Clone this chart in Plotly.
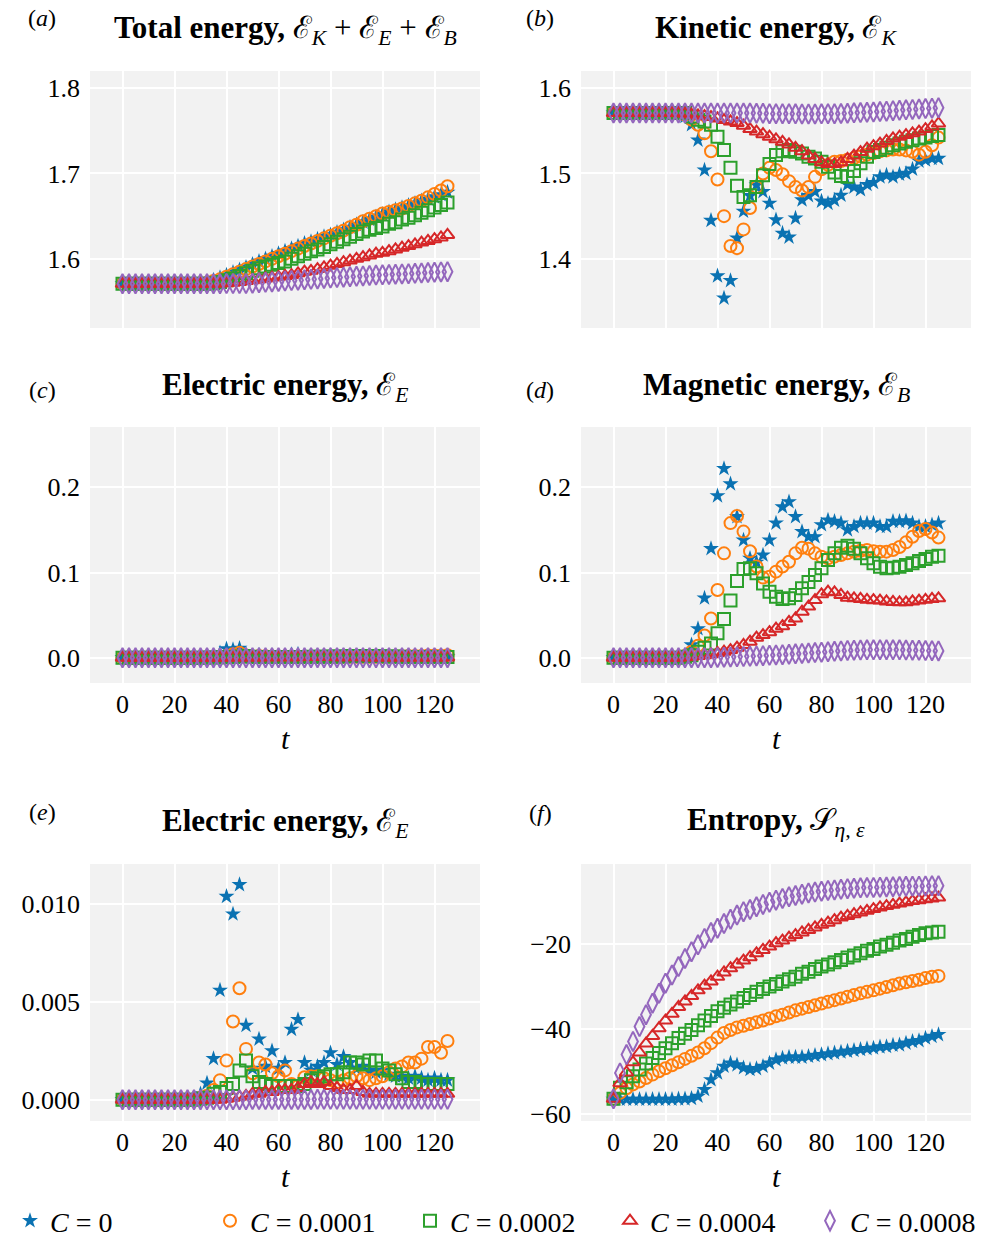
import plotly.graph_objects as go

# ---------------- data ----------------
T = [0, 2.5, 5, 7.5, 10, 12.5, 15, 17.5, 20, 22.5, 25, 27.5, 30, 32.5, 35, 37.5, 40, 42.5, 45, 47.5,
     50, 52.5, 55, 57.5, 60, 62.5, 65, 67.5, 70, 72.5, 75, 77.5, 80, 82.5, 85, 87.5, 90, 92.5, 95, 97.5,
     100, 102.5, 105, 107.5, 110, 112.5, 115, 117.5, 120, 122.5, 125]

SERIES_NAMES = ["<i>C</i> = 0", "<i>C</i> = 0.0001", "<i>C</i> = 0.0002", "<i>C</i> = 0.0004", "<i>C</i> = 0.0008"]

# total energy
TOT_C0 = [1.5708, 1.5708, 1.5708, 1.5708, 1.5708, 1.5708, 1.5708, 1.5708, 1.5708, 1.5708,
          1.5708, 1.5708, 1.5715, 1.573, 1.575, 1.578, 1.581, 1.584, 1.587, 1.590,
          1.5935, 1.597, 1.600, 1.603, 1.606, 1.609, 1.612, 1.615, 1.618, 1.620,
          1.623, 1.626, 1.628, 1.631, 1.634, 1.637, 1.640, 1.643, 1.646, 1.649,
          1.652, 1.655, 1.6575, 1.660, 1.6625, 1.665, 1.668, 1.670, 1.6725, 1.675,
          1.678]
TOT_C1 = [1.5708, 1.5708, 1.5708, 1.5708, 1.5708, 1.5708, 1.5708, 1.5708, 1.5708, 1.5708,
          1.5708, 1.5708, 1.5708, 1.572, 1.574, 1.576, 1.579, 1.582, 1.585, 1.588,
          1.591, 1.594, 1.597, 1.600, 1.603, 1.606, 1.609, 1.612, 1.615, 1.618,
          1.621, 1.624, 1.627, 1.630, 1.633, 1.637, 1.640, 1.644, 1.647, 1.650,
          1.653, 1.655, 1.657, 1.659, 1.662, 1.665, 1.668, 1.672, 1.676, 1.680,
          1.685]
TOT_C2 = [1.5708, 1.5708, 1.5708, 1.5708, 1.5708, 1.5708, 1.5708, 1.5708, 1.5708, 1.5708,
          1.5708, 1.5708, 1.5708, 1.5708, 1.5715, 1.573, 1.575, 1.577, 1.580, 1.583,
          1.586, 1.589, 1.591, 1.593, 1.595, 1.597, 1.600, 1.603, 1.606, 1.609,
          1.611, 1.614, 1.617, 1.620, 1.623, 1.626, 1.629, 1.632, 1.634, 1.636,
          1.638, 1.641, 1.643, 1.646, 1.648, 1.651, 1.654, 1.657, 1.660, 1.663,
          1.666]
TOT_C4 = [1.5708, 1.5708, 1.5708, 1.5708, 1.5708, 1.5708, 1.5708, 1.5708, 1.5708, 1.5708,
          1.5708, 1.5708, 1.5708, 1.5708, 1.5708, 1.571, 1.5715, 1.572, 1.573, 1.574,
          1.575, 1.576, 1.577, 1.578, 1.579, 1.580, 1.581, 1.583, 1.585, 1.586,
          1.588, 1.590, 1.592, 1.594, 1.596, 1.598, 1.600, 1.602, 1.604, 1.606,
          1.607, 1.609, 1.611, 1.613, 1.615, 1.617, 1.619, 1.621, 1.623, 1.625,
          1.628]
TOT_C8 = [1.5708, 1.5708, 1.5708, 1.5708, 1.5708, 1.5708, 1.5708, 1.5708, 1.5708, 1.5708,
          1.5708, 1.5708, 1.5708, 1.5708, 1.5708, 1.5708, 1.571, 1.571, 1.571, 1.571,
          1.5715, 1.572, 1.5725, 1.573, 1.5735, 1.574, 1.5745, 1.575, 1.5755, 1.576,
          1.5765, 1.577, 1.5775, 1.578, 1.5785, 1.579, 1.5795, 1.580, 1.5805, 1.581,
          1.5813, 1.5816, 1.582, 1.5823, 1.5826, 1.583, 1.5835, 1.584, 1.5843, 1.5847,
          1.585]

# kinetic energy
KIN_C0 = [1.5708, 1.5708, 1.5708, 1.5708, 1.5708, 1.5708, 1.5708, 1.5708, 1.5708, 1.5708,
          1.5708, 1.5667, 1.557, 1.539, 1.504, 1.445, 1.380, 1.354, 1.3745, 1.4243,
          1.4557, 1.474, 1.4865, 1.4787, 1.465, 1.4456, 1.430, 1.4254, 1.4476, 1.469,
          1.474, 1.4787, 1.4675, 1.465, 1.4686, 1.4745, 1.487, 1.484, 1.481, 1.487,
          1.4894, 1.496, 1.498, 1.496, 1.499, 1.500, 1.505, 1.5145, 1.5157, 1.5176,
          1.5176]
KIN_C1 = [1.5708, 1.5708, 1.5708, 1.5708, 1.5708, 1.5708, 1.5708, 1.5708, 1.5708, 1.5708,
          1.5708, 1.569, 1.563, 1.557, 1.547, 1.526, 1.493, 1.450, 1.415, 1.4125,
          1.4345, 1.4596, 1.484, 1.500, 1.5067, 1.504, 1.499, 1.491, 1.484, 1.480,
          1.484, 1.496, 1.505, 1.510, 1.5137, 1.5145, 1.516, 1.518, 1.520, 1.522,
          1.524, 1.526, 1.527, 1.528, 1.528, 1.527, 1.5255, 1.522, 1.5255, 1.533,
          1.542]
KIN_C2 = [1.5708, 1.5708, 1.5708, 1.5708, 1.5708, 1.5708, 1.5708, 1.5708, 1.5708, 1.5708,
          1.5708, 1.5708, 1.5667, 1.563, 1.561, 1.557, 1.543, 1.5275, 1.5067, 1.4855,
          1.4725, 1.4745, 1.484, 1.498, 1.511, 1.5216, 1.526, 1.5275, 1.5255, 1.5235,
          1.5196, 1.5176, 1.5137, 1.508, 1.501, 1.497, 1.496, 1.503, 1.512, 1.5196,
          1.525, 1.5275, 1.530, 1.533, 1.535, 1.537, 1.539, 1.541, 1.542, 1.544,
          1.545]
KIN_C4 = [1.5708, 1.5708, 1.5708, 1.5708, 1.5708, 1.5708, 1.5708, 1.5708, 1.5708, 1.5708,
          1.5705, 1.570, 1.569, 1.568, 1.567, 1.566, 1.5645, 1.5625, 1.561, 1.559,
          1.556, 1.552, 1.549, 1.546, 1.543, 1.540, 1.537, 1.534, 1.530, 1.526,
          1.521, 1.517, 1.513, 1.511, 1.511, 1.513, 1.517, 1.521, 1.525, 1.529,
          1.532, 1.535, 1.538, 1.541, 1.543, 1.545, 1.547, 1.549, 1.552, 1.555,
          1.5585]
KIN_C8 = [1.5708, 1.5708, 1.5708, 1.5708, 1.5708, 1.5708, 1.5708, 1.5708, 1.5708, 1.5708,
          1.5708, 1.5708, 1.5708, 1.5708, 1.5708, 1.5708, 1.5708, 1.5708, 1.5708, 1.5708,
          1.5708, 1.5708, 1.5705, 1.5705, 1.570, 1.570, 1.570, 1.570, 1.5698, 1.5697,
          1.5697, 1.5697, 1.5698, 1.570, 1.570, 1.5702, 1.5705, 1.571, 1.5713, 1.5717,
          1.572, 1.5725, 1.573, 1.5735, 1.574, 1.5745, 1.575, 1.5755, 1.576, 1.5765,
          1.577]

# electric energy
ELE_C0 = [0, 0, 0, 0, 0, 0, 0, 0, 0, 0,
          0, 0.00005, 0.0003, 0.00085, 0.0021, 0.0056, 0.0104, 0.0095, 0.011, 0.0038,
          0.0016, 0.0031, 0.0017, 0.0025, 0.0016, 0.0019, 0.0036, 0.0041, 0.0019, 0.0015,
          0.0017, 0.0019, 0.0024, 0.0018, 0.0022, 0.0019, 0.0016, 0.0017, 0.0015, 0.0014,
          0.0015, 0.0013, 0.0012, 0.0012, 0.0011, 0.0012, 0.0011, 0.0010, 0.0011, 0.0010,
          0.0010]
ELE_C1 = [0, 0, 0, 0, 0, 0, 0, 0, 0, 0,
          0, 0, 0.0001, 0.0002, 0.0005, 0.0010, 0.0020, 0.0040, 0.0057, 0.0026,
          0.00135, 0.0019, 0.0018, 0.00135, 0.0012, 0.0015, 0.0008, 0.0007, 0.00115, 0.0012,
          0.0012, 0.0011, 0.0010, 0.0009, 0.0010, 0.0011, 0.0012, 0.0011, 0.0010, 0.0011,
          0.0012, 0.0014, 0.0016, 0.0017, 0.0019, 0.0019, 0.0021, 0.0027, 0.0027, 0.0024,
          0.0030]
ELE_C2 = [0, 0, 0, 0, 0, 0, 0, 0, 0, 0,
          0, 0, 0.00005, 0.0001, 0.0003, 0.0004, 0.0006, 0.0008, 0.0015, 0.0020,
          0.0012, 0.0009, 0.0008, 0.0007, 0.0007, 0.0007, 0.0007, 0.0007, 0.0008, 0.0010,
          0.0011, 0.0012, 0.0013, 0.0013, 0.0014, 0.0019, 0.0019, 0.0018, 0.0020, 0.0020,
          0.0016, 0.0015, 0.0013, 0.0011, 0.0009, 0.0009, 0.0008, 0.0008, 0.0008, 0.0008,
          0.0008]
ELE_C4 = [0, 0, 0, 0, 0, 0, 0, 0, 0, 0,
          0, 0, 0, 0, 0, 0, 0.00005, 0.0001, 0.00015, 0.0002,
          0.0003, 0.0003, 0.0004, 0.0004, 0.0005, 0.0005, 0.0005, 0.0006, 0.0008, 0.0009,
          0.0008, 0.0009, 0.0007, 0.0006, 0.0005, 0.0005, 0.0007, 0.0004, 0.0003, 0.0003,
          0.0003, 0.0003, 0.0003, 0.0003, 0.0003, 0.0003, 0.0003, 0.0003, 0.0003, 0.0003,
          0.0003]
ELE_C8 = [0, 0, 0, 0, 0, 0, 0, 0, 0, 0,
          0, 0, 0, 0, 0, 0, 0, 0, 0, 0,
          0.00001, 0.00001, 0.00001, 0.00001, 0.00001, 0.00001, 0.00001, 0.00001, 0.00001, 0.00001,
          0.00002, 0.00002, 0.00002, 0.00002, 0.00002, 0.00002, 0.00002, 0.00002, 0.00002, 0.00002,
          0.00002, 0.00002, 0.00002, 0.00002, 0.00002, 0.00002, 0.00002, 0.00002, 0.00002, 0.00002,
          0.00002]

# magnetic energy
MAG_C0 = [0, 0, 0, 0, 0, 0, 0, 0, 0, 0,
          0, 0.003, 0.015, 0.034, 0.070, 0.128, 0.190, 0.222, 0.204, 0.1655,
          0.138, 0.1166, 0.112, 0.1205, 0.138, 0.158, 0.177, 0.183, 0.1655, 0.148,
          0.142, 0.142, 0.156, 0.1616, 0.160, 0.158, 0.150, 0.154, 0.158, 0.158,
          0.158, 0.154, 0.154, 0.160, 0.160, 0.1605, 0.158, 0.154, 0.154, 0.156,
          0.158]
MAG_C1 = [0, 0, 0, 0, 0, 0, 0, 0, 0, 0,
          0, 0.002, 0.007, 0.014, 0.026, 0.046, 0.0795, 0.1225, 0.158, 0.1663,
          0.148, 0.125, 0.107, 0.094, 0.095, 0.101, 0.107, 0.1127, 0.1225, 0.129,
          0.128, 0.1225, 0.1186, 0.1166, 0.1186, 0.1205, 0.1225, 0.1245, 0.1256, 0.1264,
          0.125, 0.1245, 0.1245, 0.1264, 0.130, 0.1354, 0.142, 0.1487, 0.151, 0.147,
          0.141]
MAG_C2 = [0, 0, 0, 0, 0, 0, 0, 0, 0, 0,
          0, 0.001, 0.003, 0.007, 0.0117, 0.0168, 0.0286, 0.0454, 0.067, 0.090,
          0.104, 0.105, 0.099, 0.087, 0.0775, 0.0716, 0.069, 0.0697, 0.0736, 0.0814,
          0.089, 0.097, 0.105, 0.1147, 0.1225, 0.129, 0.1315, 0.128, 0.1225, 0.1166,
          0.1108, 0.1068, 0.105, 0.1057, 0.1068, 0.1088, 0.1108, 0.1135, 0.1159, 0.1186,
          0.1198]
MAG_C4 = [0, 0, 0, 0, 0, 0, 0, 0, 0, 0,
          0, 0.0005, 0.001, 0.002, 0.003, 0.004, 0.0055, 0.007, 0.009, 0.0117,
          0.0149, 0.0188, 0.0235, 0.0266, 0.030, 0.034, 0.037, 0.042, 0.046, 0.054,
          0.060, 0.0677, 0.0744, 0.0775, 0.0767, 0.0736, 0.0705, 0.0697, 0.069, 0.068,
          0.0675, 0.067, 0.066, 0.0655, 0.065, 0.065, 0.066, 0.067, 0.068, 0.069,
          0.0697]
MAG_C8 = [0, 0, 0, 0, 0, 0, 0, 0, 0, 0,
          0, 0, 0, 0, 0, 0, 0.0003, 0.0005, 0.0008, 0.001,
          0.0013, 0.0016, 0.002, 0.0024, 0.0028, 0.0032, 0.0036, 0.004, 0.0045, 0.005,
          0.0055, 0.006, 0.0065, 0.007, 0.0075, 0.008, 0.0085, 0.0088, 0.009, 0.0092,
          0.0093, 0.0094, 0.0094, 0.0093, 0.0092, 0.009, 0.0088, 0.0086, 0.0084, 0.0082,
          0.008]

# entropy
ENT_C0 = [-56.5, -56.5, -56.5, -56.5, -56.5, -56.5, -56.5, -56.5, -56.5, -56.5,
          -56.4, -56.4, -56.3, -55.8, -54.2, -51.9, -50.3, -48.75, -48.0, -48.4,
          -49.1, -49.5, -49.3, -48.75, -48.0, -47.2, -46.8, -46.6, -46.6, -46.6,
          -46.4, -46.2, -46.0, -45.8, -45.6, -45.4, -45.2, -45.0, -44.8, -44.6,
          -44.45, -44.2, -44.1, -43.8, -43.7, -43.3, -42.9, -42.7, -42.1, -41.7,
          -41.3]
ENT_C1 = [-56.4, -55.0, -53.9, -53.0, -52.3, -51.5, -50.7, -49.9, -49.2, -48.5,
          -47.8, -47.0, -46.25, -45.5, -44.5, -43.3, -42.0, -40.9, -40.2, -39.6,
          -39.2, -38.8, -38.4, -37.97, -37.5, -37.0, -36.6, -36.1, -35.6, -35.2,
          -34.8, -34.4, -34.0, -33.6, -33.2, -32.8, -32.4, -32.0, -31.6, -31.25,
          -30.9, -30.5, -30.1, -29.7, -29.3, -29.0, -28.7, -28.4, -28.0, -27.7,
          -27.5]
ENT_C2 = [-56.4, -53.8, -52.5, -51.1, -49.5, -48.1, -46.8, -45.6, -44.5, -43.3,
          -42.1, -41.1, -40.2, -39.1, -38.0, -36.9, -35.8, -35.0, -34.2, -33.5,
          -32.7, -32.0, -31.25, -30.6, -30.0, -29.4, -28.8, -28.3, -27.7, -27.0,
          -26.5, -25.9, -25.3, -24.8, -24.3, -23.75, -23.2, -22.7, -22.2, -21.6,
          -21.2, -20.6, -20.2, -19.7, -19.2, -18.8, -18.3, -17.9, -17.5, -17.3,
          -17.1]
ENT_C4 = [-56.4, -52.7, -50.2, -47.8, -45.5, -43.4, -41.6, -39.8, -38.0, -36.4,
          -34.8, -33.5, -32.2, -30.9, -29.8, -28.8, -27.7, -26.7, -25.7, -24.8,
          -23.9, -23.1, -22.2, -21.4, -20.6, -19.8, -19.2, -18.5, -17.9, -17.3,
          -16.7, -16.1, -15.5, -15.0, -14.4, -13.8, -13.4, -13.0, -12.6, -12.2,
          -11.8, -11.4, -11.1, -10.8, -10.5, -10.2, -9.9, -9.7, -9.5, -9.3,
          -9.1]
ENT_C8 = [-56.4, -50.3, -46.0, -42.9, -39.4, -36.6, -33.9, -31.6, -29.2, -27.3,
          -25.3, -23.4, -21.8, -20.2, -18.7, -17.3, -16.3, -15.2, -14.2, -13.2,
          -12.4, -11.9, -11.25, -10.7, -10.2, -9.7, -9.3, -8.9, -8.6, -8.3,
          -8.0, -7.8, -7.6, -7.4, -7.3, -7.15, -7.0, -6.9, -6.8, -6.75,
          -6.7, -6.65, -6.6, -6.55, -6.5, -6.45, -6.4, -6.4, -6.35, -6.3,
          -6.3]

X_TICKS = [0, 20, 40, 60, 80, 100, 120]
Y_TICKS_A = [1.6, 1.7, 1.8]
Y_TICKS_B = [1.4, 1.5, 1.6]
Y_TICKS_CD = [0.0, 0.1, 0.2]
Y_TICKS_E = [0.000, 0.005, 0.010]
Y_TICKS_F = [-60, -40, -20]

PANEL_TITLES = [
    "<b>Total energy,</b> ℰ<sub><i>K</i></sub> + ℰ<sub><i>E</i></sub> + ℰ<sub><i>B</i></sub>",
    "<b>Kinetic energy,</b> ℰ<sub><i>K</i></sub>",
    "<b>Electric energy,</b> ℰ<sub><i>E</i></sub>",
    "<b>Magnetic energy,</b> ℰ<sub><i>B</i></sub>",
    "<b>Electric energy,</b> ℰ<sub><i>E</i></sub>",
    "<b>Entropy,</b> 𝒮<sub><i>η, ε</i></sub>",
]
PANEL_LABELS = ["(<i>a</i>)", "(<i>b</i>)", "(<i>c</i>)", "(<i>d</i>)", "(<i>e</i>)", "(<i>f</i>)"]

# ---------------- style ----------------
W, H = 1004, 1238
FONT = "Liberation Serif"
COLORS = ["#0a72b2", "#ff7f0e", "#2ca02c", "#d62728", "#9467bd"]
SYMBOLS = ["star", "circle-open", "square-open", "triangle-up-open", "diamond-tall-open"]
SIZES = [12, 12, 12, 12, 14]

# plot-area pixel boxes (left, right, top, bottom)
BOXES = [(90, 480, 71, 328), (581, 971, 71, 328),
         (90, 480, 427, 683), (581, 971, 427, 683),
         (90, 480, 864, 1121), (581, 971, 864, 1121)]
YRANGES = [(1.519, 1.82), (1.319, 1.62), (-0.0297, 0.2708), (-0.0297, 0.2708),
           (-0.00109, 0.01206), (-61.6, -1.2)]
YTICKS = [Y_TICKS_A, Y_TICKS_B, Y_TICKS_CD, Y_TICKS_CD, Y_TICKS_E, Y_TICKS_F]
YFMT = [".1f", ".1f", ".1f", ".1f", ".3f", "d"]
DATA = [
    [TOT_C0, TOT_C1, TOT_C2, TOT_C4, TOT_C8],
    [KIN_C0, KIN_C1, KIN_C2, KIN_C4, KIN_C8],
    [ELE_C0, ELE_C1, ELE_C2, ELE_C4, ELE_C8],
    [MAG_C0, MAG_C1, MAG_C2, MAG_C4, MAG_C8],
    [ELE_C0, ELE_C1, ELE_C2, ELE_C4, ELE_C8],
    [ENT_C0, ENT_C1, ENT_C2, ENT_C4, ENT_C8],
]
TITLE_Y = [30, 30, 387, 387, 823, 822]
LABEL_POS = [(42, 18), (540, 18), (42, 390), (540, 390), (42, 812), (540, 813)]
TLABEL_Y = {2: 739, 3: 739, 4: 1176, 5: 1176}

fig = go.Figure()
layout = dict(
    width=W, height=H, margin=dict(l=0, r=0, t=0, b=0, autoexpand=False),
    paper_bgcolor="white", plot_bgcolor="#f2f2f2",
    font=dict(family=FONT, size=26, color="black"),
    showlegend=True,
    legend=dict(orientation="h", x=510 / W, xanchor="center", y=1 - 1221 / H, yanchor="middle",
                font=dict(family=FONT, size=28), itemwidth=30,
                entrywidth=155, entrywidthmode="pixels", bgcolor="rgba(0,0,0,0)"),
)
annotations = []

for p in range(6):
    l, r, t, b = BOXES[p]
    sfx = "" if p == 0 else str(p + 1)
    xa, ya = "x" + sfx, "y" + sfx
    layout["xaxis" + sfx] = dict(
        domain=[l / W, r / W], anchor=ya, range=[-12.5, 137.5], automargin=False,
        tickvals=X_TICKS, showticklabels=p >= 2, showgrid=True, gridcolor="white", gridwidth=1.5,
        zeroline=False, showline=False, ticks="", ticklabelstandoff=3,
        tickfont=dict(family=FONT, size=26),
    )
    layout["yaxis" + sfx] = dict(
        domain=[1 - b / H, 1 - t / H], anchor=xa, range=list(YRANGES[p]), automargin=False,
        tickvals=YTICKS[p], tickformat=YFMT[p], showgrid=True, gridcolor="white", gridwidth=1.5,
        zeroline=False, showline=False, ticks="", ticklabelstandoff=9,
        tickfont=dict(family=FONT, size=26),
    )
    for k in range(5):
        sym = SYMBOLS[k]
        fig.add_trace(go.Scatter(
            x=T, y=DATA[p][k], mode="markers", xaxis=xa, yaxis=ya,
            name=SERIES_NAMES[k], legendgroup=SERIES_NAMES[k], showlegend=(p == 0),
            marker=dict(symbol=sym, size=SIZES[k], color=COLORS[k],
                        line=dict(width=(0 if sym == "star" else 2), color=COLORS[k])),
        ))
    annotations.append(dict(
        text=PANEL_TITLES[p], x=(l + r) / 2 / W, y=1 - TITLE_Y[p] / H, xref="paper", yref="paper",
        xanchor="center", yanchor="middle", showarrow=False, font=dict(family=FONT, size=31)))
    lx, ly = LABEL_POS[p]
    annotations.append(dict(
        text=PANEL_LABELS[p], x=lx / W, y=1 - ly / H, xref="paper", yref="paper",
        xanchor="center", yanchor="middle", showarrow=False, font=dict(family=FONT, size=24)))
    if p in TLABEL_Y:
        annotations.append(dict(
            text="<i>t</i>", x=(l + r) / 2 / W, y=1 - TLABEL_Y[p] / H, xref="paper", yref="paper",
            xanchor="center", yanchor="middle", showarrow=False, font=dict(family=FONT, size=30)))

layout["annotations"] = annotations
fig.update_layout(**layout)
POST = "document.body.style.margin='0';document.body.style.overflow='hidden';"
fig.write_html("out.html", config={"displayModeBar": False}, post_script=POST)
